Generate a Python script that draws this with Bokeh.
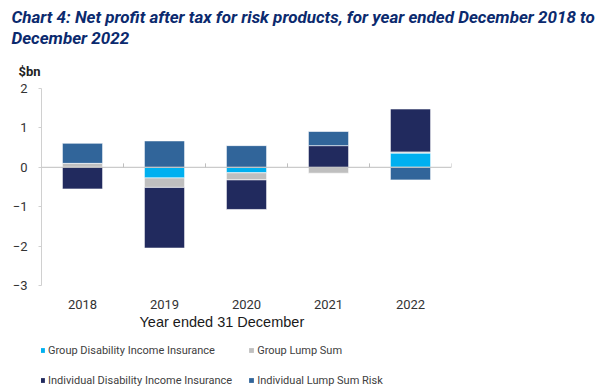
import numpy as np
from bokeh.plotting import figure
from bokeh.layouts import column
from bokeh.models import (Range1d, FixedTicker, Span, Title, Legend, LegendItem, ColumnDataSource)
from bokeh.embed import file_html
from bokeh.resources import INLINE

years = ["2018", "2019", "2020", "2021", "2022"]
series_names = ["Group Disability Income Insurance", "Group Lump Sum",
                "Individual Disability Income Insurance", "Individual Lump Sum Risk"]
group_dii = [0.00, -0.27, -0.14, 0.00, 0.36]
group_ls = [0.10, -0.24, -0.18, -0.15, 0.03]
indiv_dii = [-0.55, -1.54, -0.75, 0.55, 1.09]
indiv_ls = [0.51, 0.67, 0.55, 0.36, -0.32]
y_ticks = [-3, -2, -1, 0, 1, 2]

colors = ["#00b0f0", "#bfbfbf", "#212a5e", "#31659a"]
series = [group_dii, group_ls, indiv_dii, indiv_ls]

FONT = "Roboto"

p = figure(width=607, height=335, output_backend="svg", toolbar_location=None,
           x_range=Range1d(0, len(years)), y_range=Range1d(-3, 2),
           min_border_left=41, min_border_right=156, min_border_top=88, min_border_bottom=50)
p.outline_line_color = None
p.xgrid.grid_line_color = None
p.ygrid.grid_line_color = None

centers = np.arange(len(years)) + 0.5
pos_base = np.zeros(len(years))
neg_base = np.zeros(len(years))
sources = []
for vals, col in zip(series, colors):
    v = np.array(vals, dtype=float)
    bottom = np.where(v >= 0, pos_base, neg_base)
    top = bottom + v
    pos_base = np.where(v >= 0, top, pos_base)
    neg_base = np.where(v < 0, top, neg_base)
    src = ColumnDataSource(dict(x=centers, bottom=bottom, top=top))
    sources.append(src)
    p.vbar(x="x", bottom="bottom", top="top", width=0.49, source=src,
           fill_color=col, line_color="white", line_alpha=0.6, line_width=1)

p.add_layout(Span(location=0, dimension="width", line_color="#bfbfbf", line_width=1))
bounds = np.arange(1, len(years) + 1)
p.segment(x0=bounds, y0=0, x1=bounds, y1=0.1, line_color="#bfbfbf", line_width=1)

p.xaxis.ticker = FixedTicker(ticks=list(centers))
p.xaxis.major_label_overrides = {float(c): y for c, y in zip(centers, years)}
p.xaxis.axis_line_color = None
p.xaxis.major_tick_line_color = None
p.xaxis.minor_tick_line_color = None
p.xaxis.major_tick_out = 0
p.xaxis.major_tick_in = 0
p.xaxis.major_label_standoff = 14
p.xaxis.major_label_text_font = FONT
p.xaxis.major_label_text_font_size = "13px"
p.xaxis.major_label_text_color = "#333333"

p.yaxis.ticker = FixedTicker(ticks=y_ticks)
p.yaxis.axis_line_color = "#d0d0d0"
p.yaxis.major_tick_line_color = "#d0d0d0"
p.yaxis.major_tick_out = 3
p.yaxis.major_tick_in = 0
p.yaxis.minor_tick_line_color = None
p.yaxis.major_label_standoff = 11
p.yaxis.major_label_text_font = FONT
p.yaxis.major_label_text_font_size = "13px"
p.yaxis.major_label_text_color = "#333333"

title_color = "#0b2a6e"
p.add_layout(Title(text="$bn", align="left", offset=-23, standoff=20,
                   text_font=FONT, text_font_style="bold", text_font_size="13px",
                   text_color="#222222"), "above")
p.add_layout(Title(text="Chart 4: Net profit after tax for risk products, for year ended December 2018 to\nDecember 2022",
                   align="left", offset=-30, standoff=8, text_line_height=1.05,
                   text_font=FONT, text_font_style="bold italic", text_font_size="17px",
                   text_color=title_color), "above")

p.add_layout(Title(text="Year ended 31 December", align="left", offset=98, standoff=1,
                   text_font="Liberation Sans", text_font_style="normal", text_font_size="14.5px",
                   text_color="#1a1a1a"), "below")

# legend panel: a second figure whose bars share the data but lie outside its view
lf = figure(width=607, height=56, output_backend="svg", toolbar_location=None,
            x_axis_type=None, y_axis_type=None,
            x_range=Range1d(0, len(years)), y_range=Range1d(10, 11),
            min_border_left=0, min_border_right=0, min_border_top=0, min_border_bottom=0)
lf.outline_line_color = None
lf.xgrid.grid_line_color = None
lf.ygrid.grid_line_color = None
leg_renderers = [lf.vbar(x="x", bottom="bottom", top="top", width=0.49, source=s,
                         fill_color=c, line_color=None) for s, c in zip(sources, colors)]
items = [LegendItem(label=series_names[i], renderers=[leg_renderers[i]]) for i in range(4)]
lg = Legend(items=items, location=(-2, 4), orientation="horizontal", ncols=2,
            glyph_width=6, glyph_height=6, label_standoff=3, spacing=16,
            label_height=14, padding=0, margin=0,
            border_line_color=None, background_fill_alpha=0,
            label_text_font=FONT, label_text_font_size="11px",
            label_text_color="#404040")
lf.add_layout(lg)

open("out.html", "w").write(file_html(column(p, lf, spacing=0), INLINE))
